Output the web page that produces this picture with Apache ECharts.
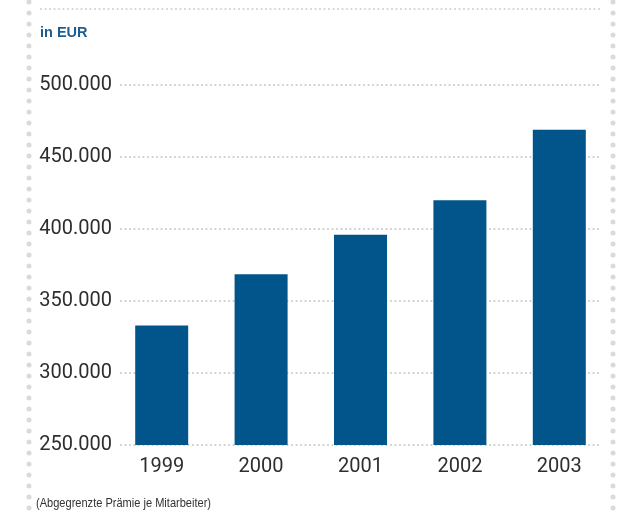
<!DOCTYPE html>
<html>
<head>
<meta charset="utf-8">
<script src="https://cdn.jsdelivr.net/npm/echarts@6/dist/echarts.min.js"></script>
<style>html,body{margin:0;padding:0;background:#fff;}#c{width:621px;height:513px;}</style>
</head>
<body>
<div id="c"></div>
<script>
var categories = ['1999', '2000', '2001', '2002', '2003'];
var values = [333000, 368500, 396000, 420000, 469000];
var tickValues = [250000, 300000, 350000, 400000, 450000, 500000];
var tickLabels = ['250.000', '300.000', '350.000', '400.000', '450.000', '500.000'];
var unitLabel = 'in EUR';
var footnote = '(Abgegrenzte Prämie je Mitarbeiter)';

var chart = echarts.init(document.getElementById('c'));
var blue = '#02558a';
var font = 'Roboto, "Liberation Sans", sans-serif';

function fmt(v) {
  var i = tickValues.indexOf(v);
  return i >= 0 ? tickLabels[i] : '';
}

chart.setOption({
  animation: false,
  backgroundColor: '#fff',
  grid: [
    { left: 112, width: 497, top: 85, height: 360 },
    { left: 121, right: 20, top: 85, height: 360 }
  ],
  xAxis: [
    {
      gridIndex: 0, type: 'category', data: categories,
      axisLine: { show: false }, axisTick: { show: false },
      axisLabel: { color: '#2e2e2e', fontSize: 20, fontFamily: font, fontWeight: 'normal', margin: 12 }
    },
    { gridIndex: 1, type: 'category', data: categories, show: false }
  ],
  yAxis: [
    { gridIndex: 0, type: 'value', min: 250000, max: 500000, interval: 50000, show: false },
    {
      gridIndex: 1, type: 'value', min: 250000, max: 500000, interval: 50000,
      axisLine: { show: false }, axisTick: { show: false },
      axisLabel: {
        color: '#2e2e2e', fontSize: 20, fontFamily: font, fontWeight: 'normal', margin: 9,
        padding: [0, 0, 14, 0], verticalAlign: 'middle', formatter: fmt
      },
      splitLine: { show: true, lineStyle: { color: '#c8c8c8', width: 2, type: [0, 4.5], cap: 'round' } }
    }
  ],
  series: [{
    type: 'bar', xAxisIndex: 0, yAxisIndex: 0, data: values, barWidth: 53,
    itemStyle: { color: blue }
  }],
  graphic: [
    { type: 'line', shape: { x1: 29, y1: 2, x2: 29, y2: 513 },
      style: { stroke: '#dadada', lineWidth: 5, lineDash: [0, 11], lineCap: 'round' }, silent: true },
    { type: 'line', shape: { x1: 613, y1: 2, x2: 613, y2: 513 },
      style: { stroke: '#dadada', lineWidth: 5, lineDash: [0, 11], lineCap: 'round' }, silent: true },
    { type: 'line', shape: { x1: 41, y1: 9, x2: 601, y2: 9 },
      style: { stroke: '#d0d0d0', lineWidth: 2, lineDash: [0, 4.5], lineCap: 'round' }, silent: true },
    { type: 'text', left: 40, top: 25,
      style: { text: unitLabel, fill: '#1d5d8f', font: 'bold 14.5px "Liberation Sans", Arial, sans-serif' } },
    { type: 'text', x: 36, y: 497, scaleX: 0.85,
      style: { text: footnote, fill: '#333', font: '13px "Liberation Sans", Arial, sans-serif' } }
  ]
});
</script>
</body>
</html>
